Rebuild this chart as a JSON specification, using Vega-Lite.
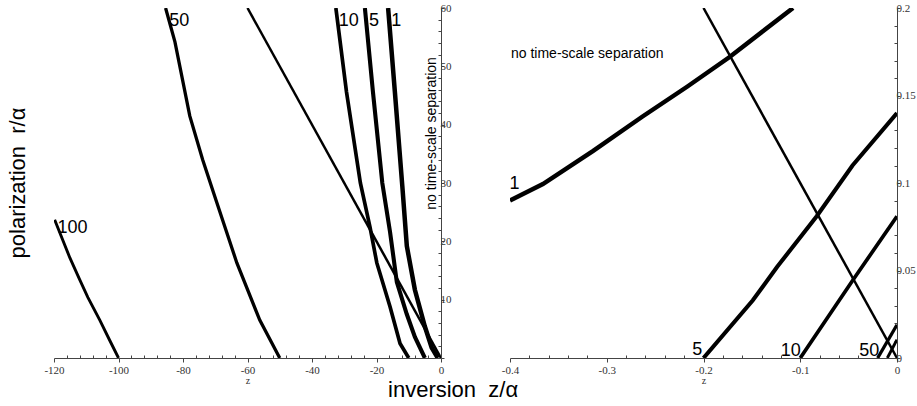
{
  "$schema": "https://vega.github.io/schema/vega-lite/v6.json",
  "background": "white",
  "padding": {"left": 6, "top": 2, "right": 5, "bottom": 2},
  "bounds": "flush",
  "spacing": 69,
  "config": {
    "view": {"stroke": null},
    "font": "Liberation Sans",
    "axis": {
      "grid": false,
      "labelFont": "Liberation Serif",
      "labelFontSize": 11,
      "labelColor": "#333333",
      "labelPadding": 2,
      "labelOverlap": false,
      "labelFlush": false,
      "labelBound": false,
      "domainColor": "#444444",
      "tickColor": "#444444",
      "tickWidth": 1,
      "titleFont": "Liberation Serif",
      "titleFontSize": 10,
      "titleFontWeight": "normal",
      "titleColor": "#333333",
      "titlePadding": 0
    },
    "title": {"font": "Liberation Sans", "fontWeight": "normal", "color": "black"}
  },
  "title": {"text": "inversion\u00a0 z/α", "orient": "bottom", "fontSize": 22, "anchor": "middle", "offset": -5, "dx": -8},
  "datasets": {
    "left": [
      {"n": "100", "z": -119.8, "r": 23.7}, {"n": "100", "z": -115.1, "r": 17.2}, {"n": "100", "z": -112.0, "r": 13.4},
      {"n": "100", "z": -109.5, "r": 10.4}, {"n": "100", "z": -105.8, "r": 6.5}, {"n": "100", "z": -102.7, "r": 3.0},
      {"n": "100", "z": -100, "r": 0},
      {"n": "50", "z": -85.4, "r": 60}, {"n": "50", "z": -82.5, "r": 54.2}, {"n": "50", "z": -77.9, "r": 41.5},
      {"n": "50", "z": -73.9, "r": 34.0}, {"n": "50", "z": -69.5, "r": 26.6}, {"n": "50", "z": -63.3, "r": 16.3},
      {"n": "50", "z": -56.2, "r": 6.5}, {"n": "50", "z": -50, "r": 0},
      {"n": "10", "z": -32.6, "r": 60}, {"n": "10", "z": -29.3, "r": 45.6}, {"n": "10", "z": -25.0, "r": 30.0},
      {"n": "10", "z": -22.0, "r": 22.4}, {"n": "10", "z": -19.9, "r": 16.3}, {"n": "10", "z": -15.8, "r": 8.8},
      {"n": "10", "z": -12.7, "r": 2.5}, {"n": "10", "z": -10, "r": 0},
      {"n": "5", "z": -23.6, "r": 60}, {"n": "5", "z": -21.1, "r": 45.6}, {"n": "5", "z": -18.2, "r": 30.0},
      {"n": "5", "z": -15.8, "r": 21.6}, {"n": "5", "z": -13.7, "r": 13.0}, {"n": "5", "z": -10.6, "r": 7.5},
      {"n": "5", "z": -8.1, "r": 3.6}, {"n": "5", "z": -5, "r": 0},
      {"n": "1", "z": -16.4, "r": 60}, {"n": "1", "z": -14.3, "r": 45.6}, {"n": "1", "z": -12.0, "r": 29.5},
      {"n": "1", "z": -10.6, "r": 19.2}, {"n": "1", "z": -8.1, "r": 11.7}, {"n": "1", "z": -5.0, "r": 5.4},
      {"n": "1", "z": -2.9, "r": 1.8}, {"n": "1", "z": -1, "r": 0},
      {"n": "diag", "z": -60, "r": 60}, {"n": "diag", "z": 0, "r": 0}
    ],
    "leftLabels": [
      {"t": "100", "z": -118.9, "r": 21.5},
      {"t": "50", "z": -84.3, "r": 57.0},
      {"t": "10", "z": -31.7, "r": 57.0},
      {"t": "5", "z": -22.3, "r": 57.0},
      {"t": "1", "z": -15.4, "r": 57.0}
    ],
    "right": [
      {"n": "1", "z": -0.4, "r": 0.090}, {"n": "1", "z": -0.366, "r": 0.0994}, {"n": "1", "z": -0.314, "r": 0.1184},
      {"n": "1", "z": -0.263, "r": 0.138}, {"n": "1", "z": -0.217, "r": 0.155}, {"n": "1", "z": -0.173, "r": 0.172},
      {"n": "1", "z": -0.1075, "r": 0.2},
      {"n": "5", "z": -0.2, "r": 0}, {"n": "5", "z": -0.149, "r": 0.033}, {"n": "5", "z": -0.124, "r": 0.052},
      {"n": "5", "z": -0.083, "r": 0.081}, {"n": "5", "z": -0.046, "r": 0.110}, {"n": "5", "z": 0, "r": 0.140},
      {"n": "10", "z": -0.1, "r": 0}, {"n": "10", "z": -0.045, "r": 0.045}, {"n": "10", "z": 0, "r": 0.081},
      {"n": "50", "z": -0.02, "r": 0}, {"n": "50", "z": 0, "r": 0.019},
      {"n": "100", "z": -0.01, "r": 0}, {"n": "100", "z": 0, "r": 0.0105},
      {"n": "diag", "z": -0.2, "r": 0.2}, {"n": "diag", "z": 0, "r": 0}
    ],
    "rightLabels": [
      {"t": "1", "z": -0.4005, "r": 0.0966},
      {"t": "5", "z": -0.2116, "r": 0.0017},
      {"t": "10", "z": -0.1202, "r": 0.001},
      {"t": "50", "z": -0.039, "r": 0.001}
    ]
  },
  "hconcat": [
    {
      "width": 387,
      "height": 350,
      "title": {"text": "polarization\u00a0 r/α", "orient": "left", "fontSize": 22, "anchor": "middle", "offset": 14},
      "layer": [
        {
          "data": {"name": "left"},
          "mark": {"type": "line", "color": "black", "clip": true},
          "encoding": {
            "x": {
              "field": "z", "type": "quantitative",
              "scale": {"domain": [-120, 0], "nice": false, "zero": false},
              "axis": {
                "title": "z",
                "labelOverlap": false,
                "tickCount": 200,
                "values": [-120,-116,-112,-108,-104,-100,-96,-92,-88,-84,-80,-76,-72,-68,-64,-60,-56,-52,-48,-44,-40,-36,-32,-28,-24,-20,-16,-12,-8,-4,0],
                "labelExpr": "datum.value % 20 === 0 ? '' + datum.value : ''",
                "tickSize": {"condition": {"test": "datum.value % 20 === 0", "value": 4}, "value": -3}
              }
            },
            "y": {
              "field": "r", "type": "quantitative",
              "scale": {"domain": [0, 60], "nice": false},
              "axis": {
                "orient": "right",
                "title": null,
                "labelOverlap": false,
                "labelPadding": -4,
                "tickCount": 200,
                "values": [0,2,4,6,8,10,12,14,16,18,20,22,24,26,28,30,32,34,36,38,40,42,44,46,48,50,52,54,56,58,60],
                "labelExpr": "datum.value % 10 === 0 && datum.value > 0 ? '' + datum.value : ''",
                "tickSize": {"condition": {"test": "datum.value % 10 === 0", "value": 3}, "value": -3}
              }
            },
            "detail": {"field": "n"},
            "strokeWidth": {
              "field": "n", "type": "nominal",
              "scale": {"domain": ["1", "5", "10", "50", "100", "diag"], "range": [4.5, 2.5, 2.5, 2.5, 2.5, 0.8]},
              "legend": null
            }
          }
        },
        {
          "data": {"name": "leftLabels"},
          "mark": {"type": "text", "align": "left", "baseline": "alphabetic", "fontSize": 18, "color": "black"},
          "encoding": {
            "x": {"field": "z", "type": "quantitative"},
            "y": {"field": "r", "type": "quantitative"},
            "text": {"field": "t"}
          }
        },
        {
          "data": {"values": [{"t": "no time-scale separation", "z": -2.8, "r": 38.5}]},
          "mark": {"type": "text", "angle": 270, "align": "center", "baseline": "middle", "fontSize": 14, "color": "black"},
          "encoding": {
            "x": {"field": "z", "type": "quantitative"},
            "y": {"field": "r", "type": "quantitative"},
            "text": {"field": "t"}
          }
        }
      ]
    },
    {
      "width": 387,
      "height": 350,
      "layer": [
        {
          "data": {"name": "right"},
          "mark": {"type": "line", "color": "black", "clip": true},
          "encoding": {
            "x": {
              "field": "z", "type": "quantitative",
              "scale": {"domain": [-0.4, 0], "nice": false, "zero": false},
              "axis": {
                "title": "z",
                "labelOverlap": false,
                "tickCount": 200,
                "values": [-0.4,-0.38,-0.36,-0.34,-0.32,-0.3,-0.28,-0.26,-0.24,-0.22,-0.2,-0.18,-0.16,-0.14,-0.12,-0.1,-0.08,-0.06,-0.04,-0.02,0],
                "labelExpr": "abs(datum.value*10 - round(datum.value*10)) < 0.001 ? '' + datum.value : ''",
                "tickSize": {"condition": {"test": "abs(datum.value*10 - round(datum.value*10)) < 0.001", "value": 4}, "value": -3}
              }
            },
            "y": {
              "field": "r", "type": "quantitative",
              "scale": {"domain": [0, 0.2], "nice": false},
              "axis": {
                "orient": "right",
                "title": null,
                "labelOverlap": false,
                "labelPadding": -4,
                "tickCount": 200,
                "values": [0,0.01,0.02,0.03,0.04,0.05,0.06,0.07,0.08,0.09,0.1,0.11,0.12,0.13,0.14,0.15,0.16,0.17,0.18,0.19,0.2],
                "labelExpr": "abs(datum.value*20 - round(datum.value*20)) < 0.001 ? '' + datum.value : ''",
                "tickSize": {"condition": {"test": "abs(datum.value*20 - round(datum.value*20)) < 0.001", "value": 3}, "value": -3}
              }
            },
            "detail": {"field": "n"},
            "strokeWidth": {
              "field": "n", "type": "nominal",
              "scale": {"domain": ["1", "5", "10", "50", "100", "diag"], "range": [5, 2.5, 2.5, 2.5, 2.5, 0.8]},
              "legend": null
            }
          }
        },
        {
          "data": {"name": "rightLabels"},
          "mark": {"type": "text", "align": "left", "baseline": "alphabetic", "fontSize": 18, "color": "black"},
          "encoding": {
            "x": {"field": "z", "type": "quantitative"},
            "y": {"field": "r", "type": "quantitative"},
            "text": {"field": "t"}
          }
        },
        {
          "data": {"values": [{"t": "no time-scale separation", "z": -0.399, "r": 0.1735}]},
          "mark": {"type": "text", "align": "left", "baseline": "middle", "fontSize": 14, "color": "black"},
          "encoding": {
            "x": {"field": "z", "type": "quantitative"},
            "y": {"field": "r", "type": "quantitative"},
            "text": {"field": "t"}
          }
        }
      ]
    }
  ]
}
